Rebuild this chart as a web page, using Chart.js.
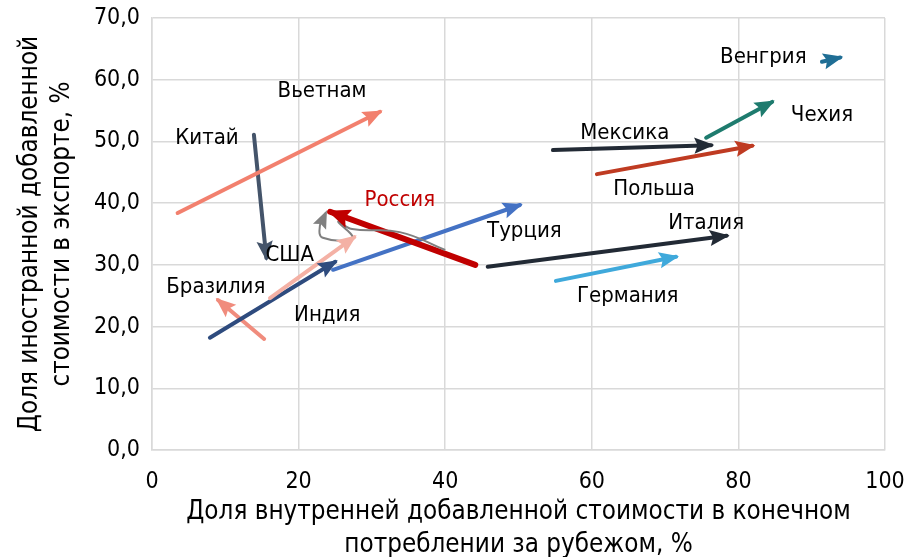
<!DOCTYPE html>
<html lang="ru">
<head>
    <meta charset="UTF-8">
    <title>Добавленная стоимость</title>
    <script src="https://cdn.jsdelivr.net/npm/chart.js@4"></script>
    <style>
        html, body { margin: 0; padding: 0; background: #fff; }
        #wrap { width: 908px; height: 557px; }
    </style>
</head>
<body>
<div id="wrap"><canvas id="arrows" width="908" height="557"></canvas></div>
<script>
// страны и начало/конец стрелок (доля внутренней ДС, доля иностранной ДС)
var countries = ['Вьетнам', 'Китай', 'США', 'Индия', 'Бразилия', 'Россия', 'Турция',
                 'Италия', 'Германия', 'Мексика', 'Польша', 'Чехия', 'Венгрия'];
var startX = [3.5, 13.9, 16.1, 7.9, 15.3, 44.1, 24.7, 45.8, 55.1, 54.7, 60.7, 75.6, 91.4];
var startY = [38.4, 51.1, 24.6, 18.2, 18.0, 30.0, 29.2, 29.7, 27.4, 48.6, 44.7, 50.6, 62.9];
var endX   = [31.1, 15.6, 27.6, 25.0, 9.0, 24.3, 50.2, 78.4, 71.5, 76.3, 81.9, 84.6, 93.9];
var endY   = [54.8, 31.1, 34.5, 30.5, 24.3, 38.6, 39.7, 34.7, 31.3, 49.4, 49.3, 56.4, 63.6];

// траектория России по годам (серая линия)
var russiaPathX = [40.0, 33.8, 27.3, 25.4, 27.3, 23.3, 22.9, 23.7];
var russiaPathY = [32.4, 35.3, 35.8, 37.0, 34.4, 34.4, 36.3, 38.4];

var xTicks = [0, 20, 40, 60, 80, 100];
var yTicks = [0, 10, 20, 30, 40, 50, 60, 70];

// оформление
var colors = ['#F2806E', '#44546A', '#F4B1A5', '#2E4B7E', '#F08C7D', '#C00000', '#4472C4',
              '#222A35', '#3FA9DB', '#222A35', '#BF3B22', '#1E7B6E', '#1F6E95'];
var widths = [4, 4, 4, 4, 4, 6, 4, 4, 4, 4, 4, 4, 4];
var labelX = [23.2, 7.5, 18.8, 23.9, 8.7, 33.8, 50.8, 75.6, 64.9, 64.5, 68.5, 91.4, 83.4];
var labelY = [58.5, 50.9, 31.9, 22.2, 26.7, 40.8, 35.7, 37.1, 25.3, 51.7, 42.6, 54.6, 63.9];
var FONT = "'DejaVu Sans Condensed', 'DejaVu Sans', sans-serif";

var datasets = [];
// серая линия под стрелками
datasets.push({
    label: 'Россия (путь)',
    data: russiaPathX.map(function (x, i) { return { x: x, y: russiaPathY[i] }; }),
    showLine: true,
    borderColor: '#808080',
    borderWidth: 2,
    tension: 0.45,
    pointRadius: 0,
    arrowColor: '#808080',
    arrowSize: 15
});
countries.forEach(function (c, i) {
    datasets.push({
        label: c,
        data: [{ x: startX[i], y: startY[i] }, { x: endX[i], y: endY[i] }],
        showLine: true,
        borderColor: colors[i],
        borderWidth: widths[i],
        borderCapStyle: 'round',
        pointRadius: 0,
        arrowColor: colors[i],
        arrowSize: widths[i] > 4 ? 20 : 17
    });
});

// наконечники стрелок и подписи
var arrowPlugin = {
    id: 'arrowHeads',
    afterDatasetsDraw: function (chart) {
        var ctx = chart.ctx;
        var xs = chart.scales.x, ys = chart.scales.y;
        chart.data.datasets.forEach(function (ds) {
            var n = ds.data.length;
            var a = ds.data[n - 2], b = ds.data[n - 1];
            var x1 = xs.getPixelForValue(a.x), y1 = ys.getPixelForValue(a.y);
            var x2 = xs.getPixelForValue(b.x), y2 = ys.getPixelForValue(b.y);
            var ang = Math.atan2(y2 - y1, x2 - x1);
            var L = ds.arrowSize, W = L * 0.48;
            ctx.save();
            ctx.translate(x2, y2);
            ctx.rotate(ang);
            ctx.fillStyle = ds.arrowColor;
            ctx.beginPath();
            ctx.moveTo(3, 0);
            ctx.lineTo(-L, -W);
            ctx.lineTo(-L * 0.8, 0);
            ctx.lineTo(-L, W);
            ctx.closePath();
            ctx.fill();
            ctx.restore();
        });
        ctx.save();
        ctx.font = '22px ' + FONT;
        ctx.textAlign = 'center';
        ctx.textBaseline = 'middle';
        countries.forEach(function (c, i) {
            ctx.fillStyle = c === 'Россия' ? '#C00000' : '#000000';
            ctx.fillText(c, xs.getPixelForValue(labelX[i]), ys.getPixelForValue(labelY[i]) + 2);
        });
        ctx.restore();
    }
};

new Chart(document.getElementById('arrows'), {
    type: 'scatter',
    data: { datasets: datasets },
    plugins: [arrowPlugin],
    options: {
        responsive: false,
        animation: false,
        layout: { padding: { top: 18, right: 23, left: 0, bottom: 0 } },
        plugins: { legend: { display: false }, tooltip: { enabled: false } },
        scales: {
            x: {
                type: 'linear',
                min: 0, max: 100,
                afterBuildTicks: function (s) { s.ticks = xTicks.map(function (v) { return { value: v }; }); },
                afterFit: function (s) { s.height = 107; s.paddingLeft = 0; s.paddingRight = 0; },
                grid: { color: '#D9D9D9', lineWidth: 1.5, drawTicks: false },
                border: { color: '#D9D9D9', width: 1.5 },
                ticks: { color: '#000', padding: 18, font: { family: FONT, size: 23 } },
                title: {
                    display: true,
                    text: ['Доля внутренней добавленной стоимости в конечном', 'потреблении за рубежом, %'],
                    color: '#000',
                    font: { family: FONT, size: 25.8, lineHeight: 1.25 },
                    padding: { top: 0, bottom: -4 }
                }
            },
            y: {
                type: 'linear',
                min: 0, max: 70,
                afterBuildTicks: function (s) { s.ticks = yTicks.map(function (v) { return { value: v }; }); },
                afterFit: function (s) { s.width = 152; s.paddingTop = 0; s.paddingBottom = 0; },
                grid: { color: '#D9D9D9', lineWidth: 1.5, drawTicks: false },
                border: { color: '#D9D9D9', width: 1.5 },
                ticks: {
                    color: '#000', padding: 12, font: { family: FONT, size: 23 },
                    callback: function (v) { return v.toFixed(1).replace('.', ','); }
                },
                title: {
                    display: true,
                    text: ['Доля иностранной добавленной', 'стоимости в экспорте, %'],
                    color: '#000',
                    font: { family: FONT, size: 25.8, lineHeight: 1.25 },
                    padding: { top: 14, bottom: 0 }
                }
            }
        }
    }
});
</script>
</body>
</html>
